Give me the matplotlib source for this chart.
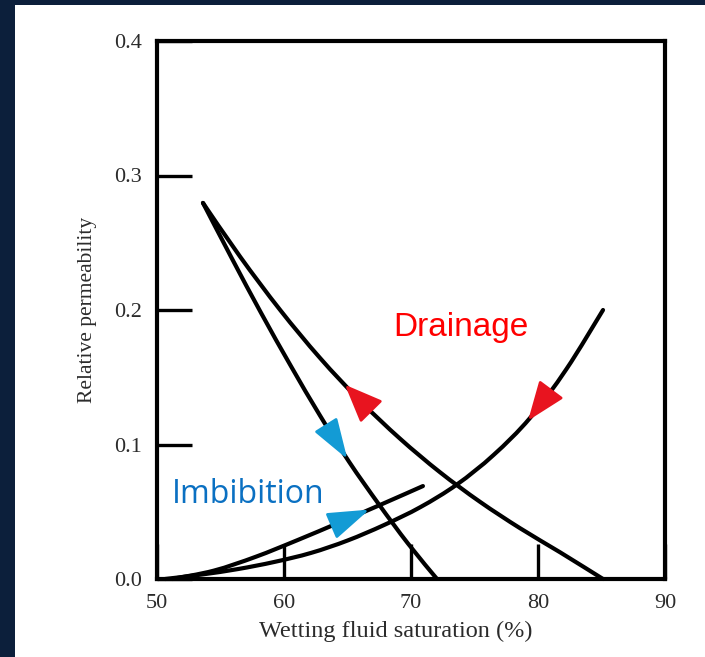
import numpy as np
import matplotlib
matplotlib.use("Agg")
import matplotlib.pyplot as plt
from matplotlib.patches import Rectangle, Polygon, PathPatch
from matplotlib.path import Path

# Relative permeability hysteresis curves (wetting saturation in %, kr)
drain_nw_sw = [53.62, 56.54, 59.69, 62.83, 65.98, 69.13, 72.28, 75.43, 78.58, 81.73, 85.12]
drain_nw_kr = [0.2796, 0.2397, 0.2001, 0.1644, 0.1326, 0.1044, 0.0794, 0.0574, 0.0378,
               0.0199, 0.0]

imb_nw_sw = [53.62, 55.91, 58.19, 60.55, 62.83, 65.12, 67.48, 69.76, 72.05]
imb_nw_kr = [0.2796, 0.2381, 0.1979, 0.1582, 0.1216, 0.0872, 0.0554, 0.0264, 0.0]

drain_w_sw = [50.63, 53.50, 56.38, 59.25, 62.13, 65.00, 67.87, 70.75, 73.62, 76.50, 79.37,
              82.24, 85.12]
drain_w_kr = [0.0, 0.0033, 0.0074, 0.0127, 0.0194, 0.0286, 0.0401, 0.0535, 0.0703, 0.0922,
              0.1197, 0.1561, 0.2000]

imb_w_sw = [51.18, 54.47, 57.77, 61.06, 64.35, 67.65, 70.94]
imb_w_kr = [0.0, 0.0062, 0.0165, 0.0289, 0.0420, 0.0554, 0.0691]

x_ticks = [50, 60, 70, 80, 90]
y_ticks = [0.0, 0.1, 0.2, 0.3, 0.4]
y_tick_labels = ["0.0", "0.1", "0.2", "0.3", "0.4"]

RED = "#e8141f"
BLUE = "#139bd5"
NAVY = "#0c1f3b"
INK = "#2b2b2b"

fig = plt.figure(figsize=(7.05, 6.57), dpi=100, facecolor=NAVY)
fig.add_artist(Rectangle((15 / 705, 0), 1, 1 - 5 / 657, transform=fig.transFigure,
                         facecolor="white", edgecolor="none", zorder=-10))

ax = fig.add_axes([157 / 705, 1 - 579 / 657, 508 / 705, 538 / 657])
ax.set_xlim(50, 90)
ax.set_ylim(0, 0.4)
ax.set_facecolor("white")

for s in ax.spines.values():
    s.set_linewidth(3.0)
    s.set_color("black")
    s.set_capstyle("projecting")

serif = ["Liberation Serif", "DejaVu Serif"]
ax.set_xticks(x_ticks)
ax.set_xticklabels([str(v) for v in x_ticks], family=serif, fontsize=16, color=INK)
ax.set_yticks(y_ticks)
ax.set_yticklabels(y_tick_labels, family=serif, fontsize=16, color=INK)
ax.tick_params(axis="both", direction="in", length=25, width=2.4, color="black")
ax.tick_params(axis="x", pad=10.5)
ax.tick_params(axis="y", pad=11)

ax.set_xlabel("Wetting fluid saturation (%)", family=serif, fontsize=17.5, color=INK)
ax.xaxis.set_label_coords(0.47, -0.078)
ax.set_ylabel("Relative permeability", family=serif, fontsize=15.5, color=INK)
ax.yaxis.set_label_coords(-0.118, 0.5)


def smooth_path(x, y):
    """Catmull-Rom curve through the points, expressed as cubic Bezier segments."""
    p = np.column_stack([x, y]).astype(float)
    ext = np.vstack([p[0], p, p[-1]])
    verts = [p[0]]
    codes = [Path.MOVETO]
    for i in range(1, len(ext) - 2):
        p0, p1, p2, p3 = ext[i - 1], ext[i], ext[i + 1], ext[i + 2]
        verts += [p1 + (p2 - p0) / 6, p2 - (p3 - p1) / 6, p2]
        codes += [Path.CURVE4] * 3
    return Path(np.array(verts), codes)


curves = [
    (drain_nw_sw, drain_nw_kr),
    (imb_nw_sw, imb_nw_kr),
    (drain_w_sw, drain_w_kr),
    (imb_w_sw, imb_w_kr),
]
for sw, kr in curves:
    ax.add_patch(PathPatch(smooth_path(sw, kr), facecolor="none", edgecolor="black",
                           lw=3.0, capstyle="round", joinstyle="round", zorder=3,
                           clip_on=False))


def arrow_on_curve(sw, kr, x_tip, direction, color, length=34, width=25):
    """Filled arrowhead sitting on a curve; direction +1 points toward larger sw."""
    pts = ax.transData.transform(np.column_stack([sw, kr]))
    seg = np.hypot(*np.diff(pts, axis=0).T)
    s = np.concatenate([[0], np.cumsum(seg)])
    xs = pts[:, 0]
    tip_disp_x = ax.transData.transform((x_tip, 0))[0]
    order = np.argsort(xs)
    s_tip = np.interp(tip_disp_x, xs[order], s[order])
    s_base = s_tip - direction * length * np.sign(xs[-1] - xs[0])
    tip = np.array([np.interp(s_tip, s, pts[:, 0]), np.interp(s_tip, s, pts[:, 1])])
    base = np.array([np.interp(s_base, s, pts[:, 0]), np.interp(s_base, s, pts[:, 1])])
    d = tip - base
    d /= np.hypot(*d)
    n = np.array([-d[1], d[0]])
    tri = np.array([tip, base + n * width / 2, base - n * width / 2])
    tri_data = ax.transData.inverted().transform(tri)
    ax.add_patch(Polygon(tri_data, closed=True, facecolor=color, edgecolor=color,
                         lw=2.0, joinstyle="round", zorder=5))


arrow_on_curve(drain_nw_sw, drain_nw_kr, 65.0, -1, RED, length=33, width=27)
arrow_on_curve(imb_nw_sw, imb_nw_kr, 64.8, +1, BLUE, length=35, width=23)
arrow_on_curve(drain_w_sw, drain_w_kr, 79.4, -1, RED, length=34, width=26)
arrow_on_curve(imb_w_sw, imb_w_kr, 66.4, +1, BLUE, length=36, width=24)

ax.text(73.9, 0.181, "Drainage", color="#ff0000", fontsize=24,
        family=["Liberation Sans", "DejaVu Sans"], ha="center", va="baseline")
ax.text(57.2, 0.0565, "Imbibition", color="#0a70c2", fontsize=23,
        family=["Open Sans", "DejaVu Sans"], ha="center", va="baseline")

fig.savefig("out.png", dpi=100, facecolor=NAVY)
